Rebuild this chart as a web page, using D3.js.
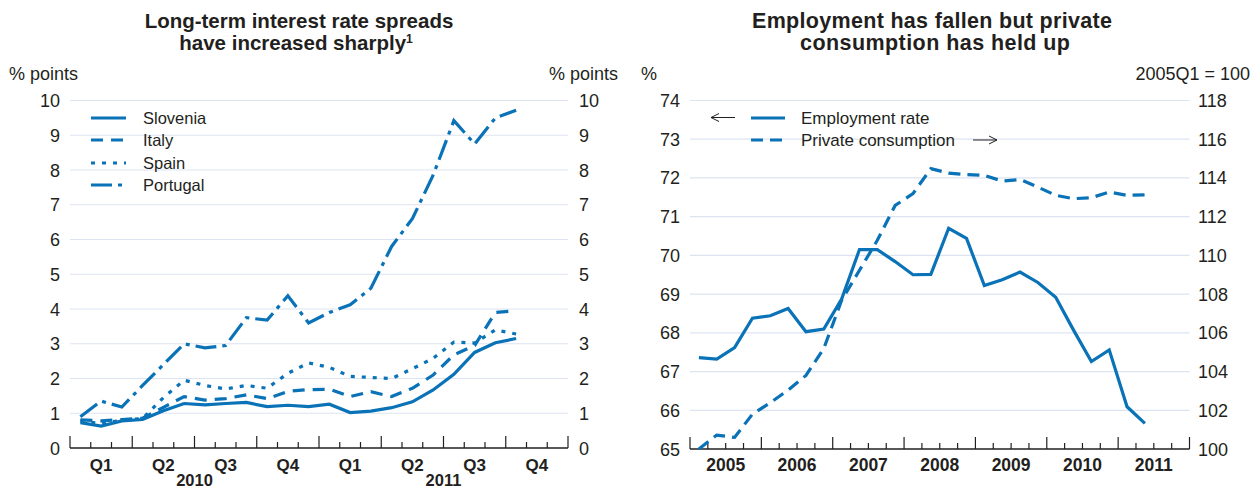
<!DOCTYPE html>
<html><head><meta charset="utf-8">
<script src="https://cdn.jsdelivr.net/npm/d3@7"></script>
<style>
body{margin:0;background:#fff;}
svg{font-family:"Liberation Sans",Arial,Helvetica,sans-serif;}
</style></head>
<body><svg id="c" width="1258" height="491"></svg>
<script>
// ---------- Data: left panel (monthly, Jan 2010 – Oct 2011) ----------
const months = ["2010-01","2010-02","2010-03","2010-04","2010-05","2010-06","2010-07","2010-08","2010-09","2010-10","2010-11","2010-12",
                "2011-01","2011-02","2011-03","2011-04","2011-05","2011-06","2011-07","2011-08","2011-09","2011-10"];
const slovenia = [0.73,0.63,0.78,0.82,1.07,1.28,1.24,1.28,1.31,1.19,1.23,1.19,1.26,1.02,1.06,1.16,1.33,1.67,2.12,2.75,3.03,3.15];
const italy    = [0.81,0.78,0.82,0.86,1.17,1.48,1.38,1.42,1.53,1.42,1.63,1.68,1.69,1.48,1.62,1.48,1.72,2.10,2.68,2.95,3.90,3.95];
const spain    = [0.78,0.70,0.80,0.85,1.45,1.95,1.80,1.70,1.80,1.72,2.15,2.45,2.32,2.06,2.03,2.00,2.28,2.58,3.05,3.02,3.40,3.28];
const portugal = [0.90,1.35,1.18,1.80,2.40,3.00,2.88,2.95,3.75,3.68,4.38,3.60,3.90,4.12,4.60,5.80,6.60,7.85,9.42,8.75,9.50,9.72];
const leftSeriesNames = ["Slovenia","Italy","Spain","Portugal"];
const quarterLabels = ["Q1","Q2","Q3","Q4","Q1","Q2","Q3","Q4"];
const leftYears = ["2010","2011"];
const leftTicks = [0,1,2,3,4,5,6,7,8,9,10];

// ---------- Data: right panel (quarterly, 2005Q1 – 2011Q2) ----------
const quarters = ["2005Q1","2005Q2","2005Q3","2005Q4","2006Q1","2006Q2","2006Q3","2006Q4","2007Q1","2007Q2","2007Q3","2007Q4",
                  "2008Q1","2008Q2","2008Q3","2008Q4","2009Q1","2009Q2","2009Q3","2009Q4","2010Q1","2010Q2","2010Q3","2010Q4","2011Q1","2011Q2"];
const employment = [67.36,67.32,67.62,68.38,68.44,68.63,68.03,68.10,68.87,70.15,70.15,69.84,69.50,69.51,70.70,70.44,69.22,69.37,69.57,69.30,68.92,68.07,67.26,67.56,66.09,65.66];
const consumption = [100.0,100.72,100.6,101.8,102.39,103.04,103.8,105.19,107.68,109.23,110.78,112.58,113.19,114.48,114.25,114.17,114.13,113.84,113.92,113.53,113.10,112.93,112.98,113.27,113.10,113.13];
const rightYears = ["2005","2006","2007","2008","2009","2010","2011"];
const rightLeftTicks = [65,66,67,68,69,70,71,72,73,74];
const rightRightTicks = [100,102,104,106,108,110,112,114,116,118];

// ---------- Styling ----------
const BLUE = "#0a72b7", GRID = "#dce3f1", TXT = "#231f20";
const svg = d3.select("#c");
const TICKFS = 18;

// ================= LEFT PANEL =================
const L = {x0:70, x1:568, y0:448, y1:100.5};
const xl = d3.scaleLinear().domain([0,24]).range([L.x0,L.x1]);
const yl = d3.scaleLinear().domain([0,10]).range([L.y0,L.y1]);

const gL = svg.append("g");
gL.selectAll("line.grid").data(leftTicks.filter(d=>d>0)).join("line")
  .attr("x1",L.x0).attr("x2",L.x1).attr("y1",d=>yl(d)).attr("y2",d=>yl(d))
  .attr("stroke",GRID).attr("stroke-width",1.2);
gL.selectAll("text.yl").data(leftTicks).join("text")
  .attr("x",60).attr("y",d=>yl(d)+6.5).attr("text-anchor","end")
  .attr("font-size",TICKFS).attr("fill",TXT).text(d=>d);
gL.selectAll("text.yr").data(leftTicks).join("text")
  .attr("x",579).attr("y",d=>yl(d)+6.5).attr("text-anchor","start")
  .attr("font-size",TICKFS).attr("fill",TXT).text(d=>d);
gL.append("text").attr("x",9).attr("y",80).attr("font-size",TICKFS).attr("fill",TXT).text("% points");
gL.append("text").attr("x",618).attr("y",80).attr("text-anchor","end").attr("font-size",TICKFS).attr("fill",TXT).text("% points");

// x axis
gL.append("line").attr("x1",L.x0).attr("x2",L.x1).attr("y1",L.y0).attr("y2",L.y0).attr("stroke",TXT).attr("stroke-width",1.3);
gL.selectAll("line.tk").data(d3.range(0,25)).join("line")
  .attr("x1",d=>xl(d)).attr("x2",d=>xl(d)).attr("y1",L.y0).attr("y2",d=>d%3===0?L.y0-12:L.y0-6)
  .attr("stroke",TXT).attr("stroke-width",1.2);
gL.selectAll("text.q").data(quarterLabels).join("text")
  .attr("x",(d,i)=>xl(i*3+1.5)).attr("y",471).attr("text-anchor","middle")
  .attr("font-size",17).attr("font-weight","bold").attr("fill",TXT).text(d=>d);
gL.selectAll("text.yr").data(leftYears).join("text")
  .attr("x",(d,i)=>xl(i*12+6)).attr("y",486).attr("text-anchor","middle")
  .attr("font-size",16.5).attr("font-weight","bold").attr("fill",TXT).text(d=>d);

const leftData = [slovenia,italy,spain,portugal];
const dashes = [null,"12,8","4,7","21,6,4,6"];
const lineL = d3.line().x((d,i)=>xl(i+0.5)).y(d=>yl(d));
leftData.forEach((s,k)=>{
  gL.append("path").datum(s).attr("d",lineL).attr("fill","none")
    .attr("stroke",BLUE).attr("stroke-width",3.2).attr("stroke-linejoin","miter")
    .attr("stroke-dasharray",dashes[k]);
});
// legend
const legY = [118,140,163,185];
leftSeriesNames.forEach((n,k)=>{
  gL.append("line").attr("x1",91).attr("x2",126).attr("y1",legY[k]).attr("y2",legY[k])
    .attr("stroke",BLUE).attr("stroke-width",3.2).attr("stroke-dasharray",dashes[k]);
  gL.append("text").attr("x",143).attr("y",legY[k]+5.5).attr("font-size",16.5).attr("fill",TXT).text(n);
});
// title
const tL = gL.append("text").attr("text-anchor","middle").attr("font-size",20.5).attr("font-weight","bold").attr("fill",TXT);
tL.append("tspan").attr("x",299).attr("y",28).text("Long-term interest rate spreads");
tL.append("tspan").attr("x",296).attr("y",50).text("have increased sharply");
tL.append("tspan").attr("font-size",12).attr("dy",-7).text("1");

// ================= RIGHT PANEL =================
const R = {x0:690, x1:1189.5, y0:449, y1:100.5};
const xr = d3.scaleLinear().domain([0,28]).range([R.x0,R.x1]);
const yrL = d3.scaleLinear().domain([65,74]).range([R.y0,R.y1]);
const yrR = d3.scaleLinear().domain([100,118]).range([R.y0,R.y1]);
const gR = svg.append("g");
gR.selectAll("line.grid").data(rightLeftTicks.filter(d=>d>65)).join("line")
  .attr("x1",R.x0).attr("x2",R.x1).attr("y1",d=>yrL(d)).attr("y2",d=>yrL(d))
  .attr("stroke",GRID).attr("stroke-width",1.2);
gR.selectAll("text.yl").data(rightLeftTicks).join("text")
  .attr("x",680).attr("y",d=>yrL(d)+6.5).attr("text-anchor","end")
  .attr("font-size",TICKFS).attr("fill",TXT).text(d=>d);
gR.selectAll("text.yr").data(rightRightTicks).join("text")
  .attr("x",1198).attr("y",d=>yrR(d)+6.5).attr("text-anchor","start")
  .attr("font-size",TICKFS).attr("fill",TXT).text(d=>d);
gR.append("text").attr("x",641).attr("y",80).attr("font-size",TICKFS).attr("fill",TXT).text("%");
gR.append("text").attr("x",1250).attr("y",80).attr("text-anchor","end").attr("font-size",TICKFS).attr("fill",TXT).text("2005Q1 = 100");

gR.append("line").attr("x1",R.x0).attr("x2",R.x1).attr("y1",R.y0).attr("y2",R.y0).attr("stroke",TXT).attr("stroke-width",1.3);
gR.selectAll("line.tk").data(d3.range(0,29)).join("line")
  .attr("x1",d=>xr(d)).attr("x2",d=>xr(d)).attr("y1",R.y0).attr("y2",d=>d%4===0?R.y0-12:R.y0-6)
  .attr("stroke",TXT).attr("stroke-width",1.2);
gR.selectAll("text.yrs").data(rightYears).join("text")
  .attr("x",(d,i)=>xr(i*4+2)).attr("y",471).attr("text-anchor","middle")
  .attr("font-size",17.5).attr("font-weight","bold").attr("fill",TXT).text(d=>d);

const lineE = d3.line().x((d,i)=>xr(i+0.5)).y(d=>yrL(d));
const lineC = d3.line().x((d,i)=>xr(i+0.5)).y(d=>yrR(d));
gR.append("path").datum(consumption).attr("d",lineC).attr("fill","none").attr("stroke",BLUE)
  .attr("stroke-width",3.2).attr("stroke-dasharray","12,7");
gR.append("path").datum(employment).attr("d",lineE).attr("fill","none").attr("stroke",BLUE)
  .attr("stroke-width",3.2);

// legend
gR.append("line").attr("x1",751).attr("x2",785).attr("y1",118).attr("y2",118).attr("stroke",BLUE).attr("stroke-width",3.2);
gR.append("line").attr("x1",751).attr("x2",785).attr("y1",140).attr("y2",140).attr("stroke",BLUE).attr("stroke-width",3.2).attr("stroke-dasharray","12,7");
gR.append("text").attr("x",801).attr("y",124).attr("font-size",17).attr("fill",TXT).text("Employment rate");
gR.append("text").attr("x",801).attr("y",146).attr("font-size",17).attr("fill",TXT).text("Private consumption");
// arrows
function arrow(xa,xb,y){
  gR.append("line").attr("x1",xa).attr("x2",xb).attr("y1",y).attr("y2",y).attr("stroke",TXT).attr("stroke-width",1);
  const d = xb>xa?-1:1;
  gR.append("path").attr("d",`M${xb+d*8},${y-4} L${xb},${y} L${xb+d*8},${y+4}`).attr("fill","none").attr("stroke",TXT).attr("stroke-width",1);
}
arrow(735,711,117.5);
arrow(973,997,140);

const tR = gR.append("text").attr("text-anchor","middle").attr("font-size",21.5).attr("font-weight","bold").attr("fill",TXT);
tR.append("tspan").attr("x",932).attr("y",28).attr("textLength",360).attr("lengthAdjust","spacing").text("Employment has fallen but private");
tR.append("tspan").attr("x",935).attr("y",50).attr("textLength",270).attr("lengthAdjust","spacing").text("consumption has held up");
</script></body></html>
